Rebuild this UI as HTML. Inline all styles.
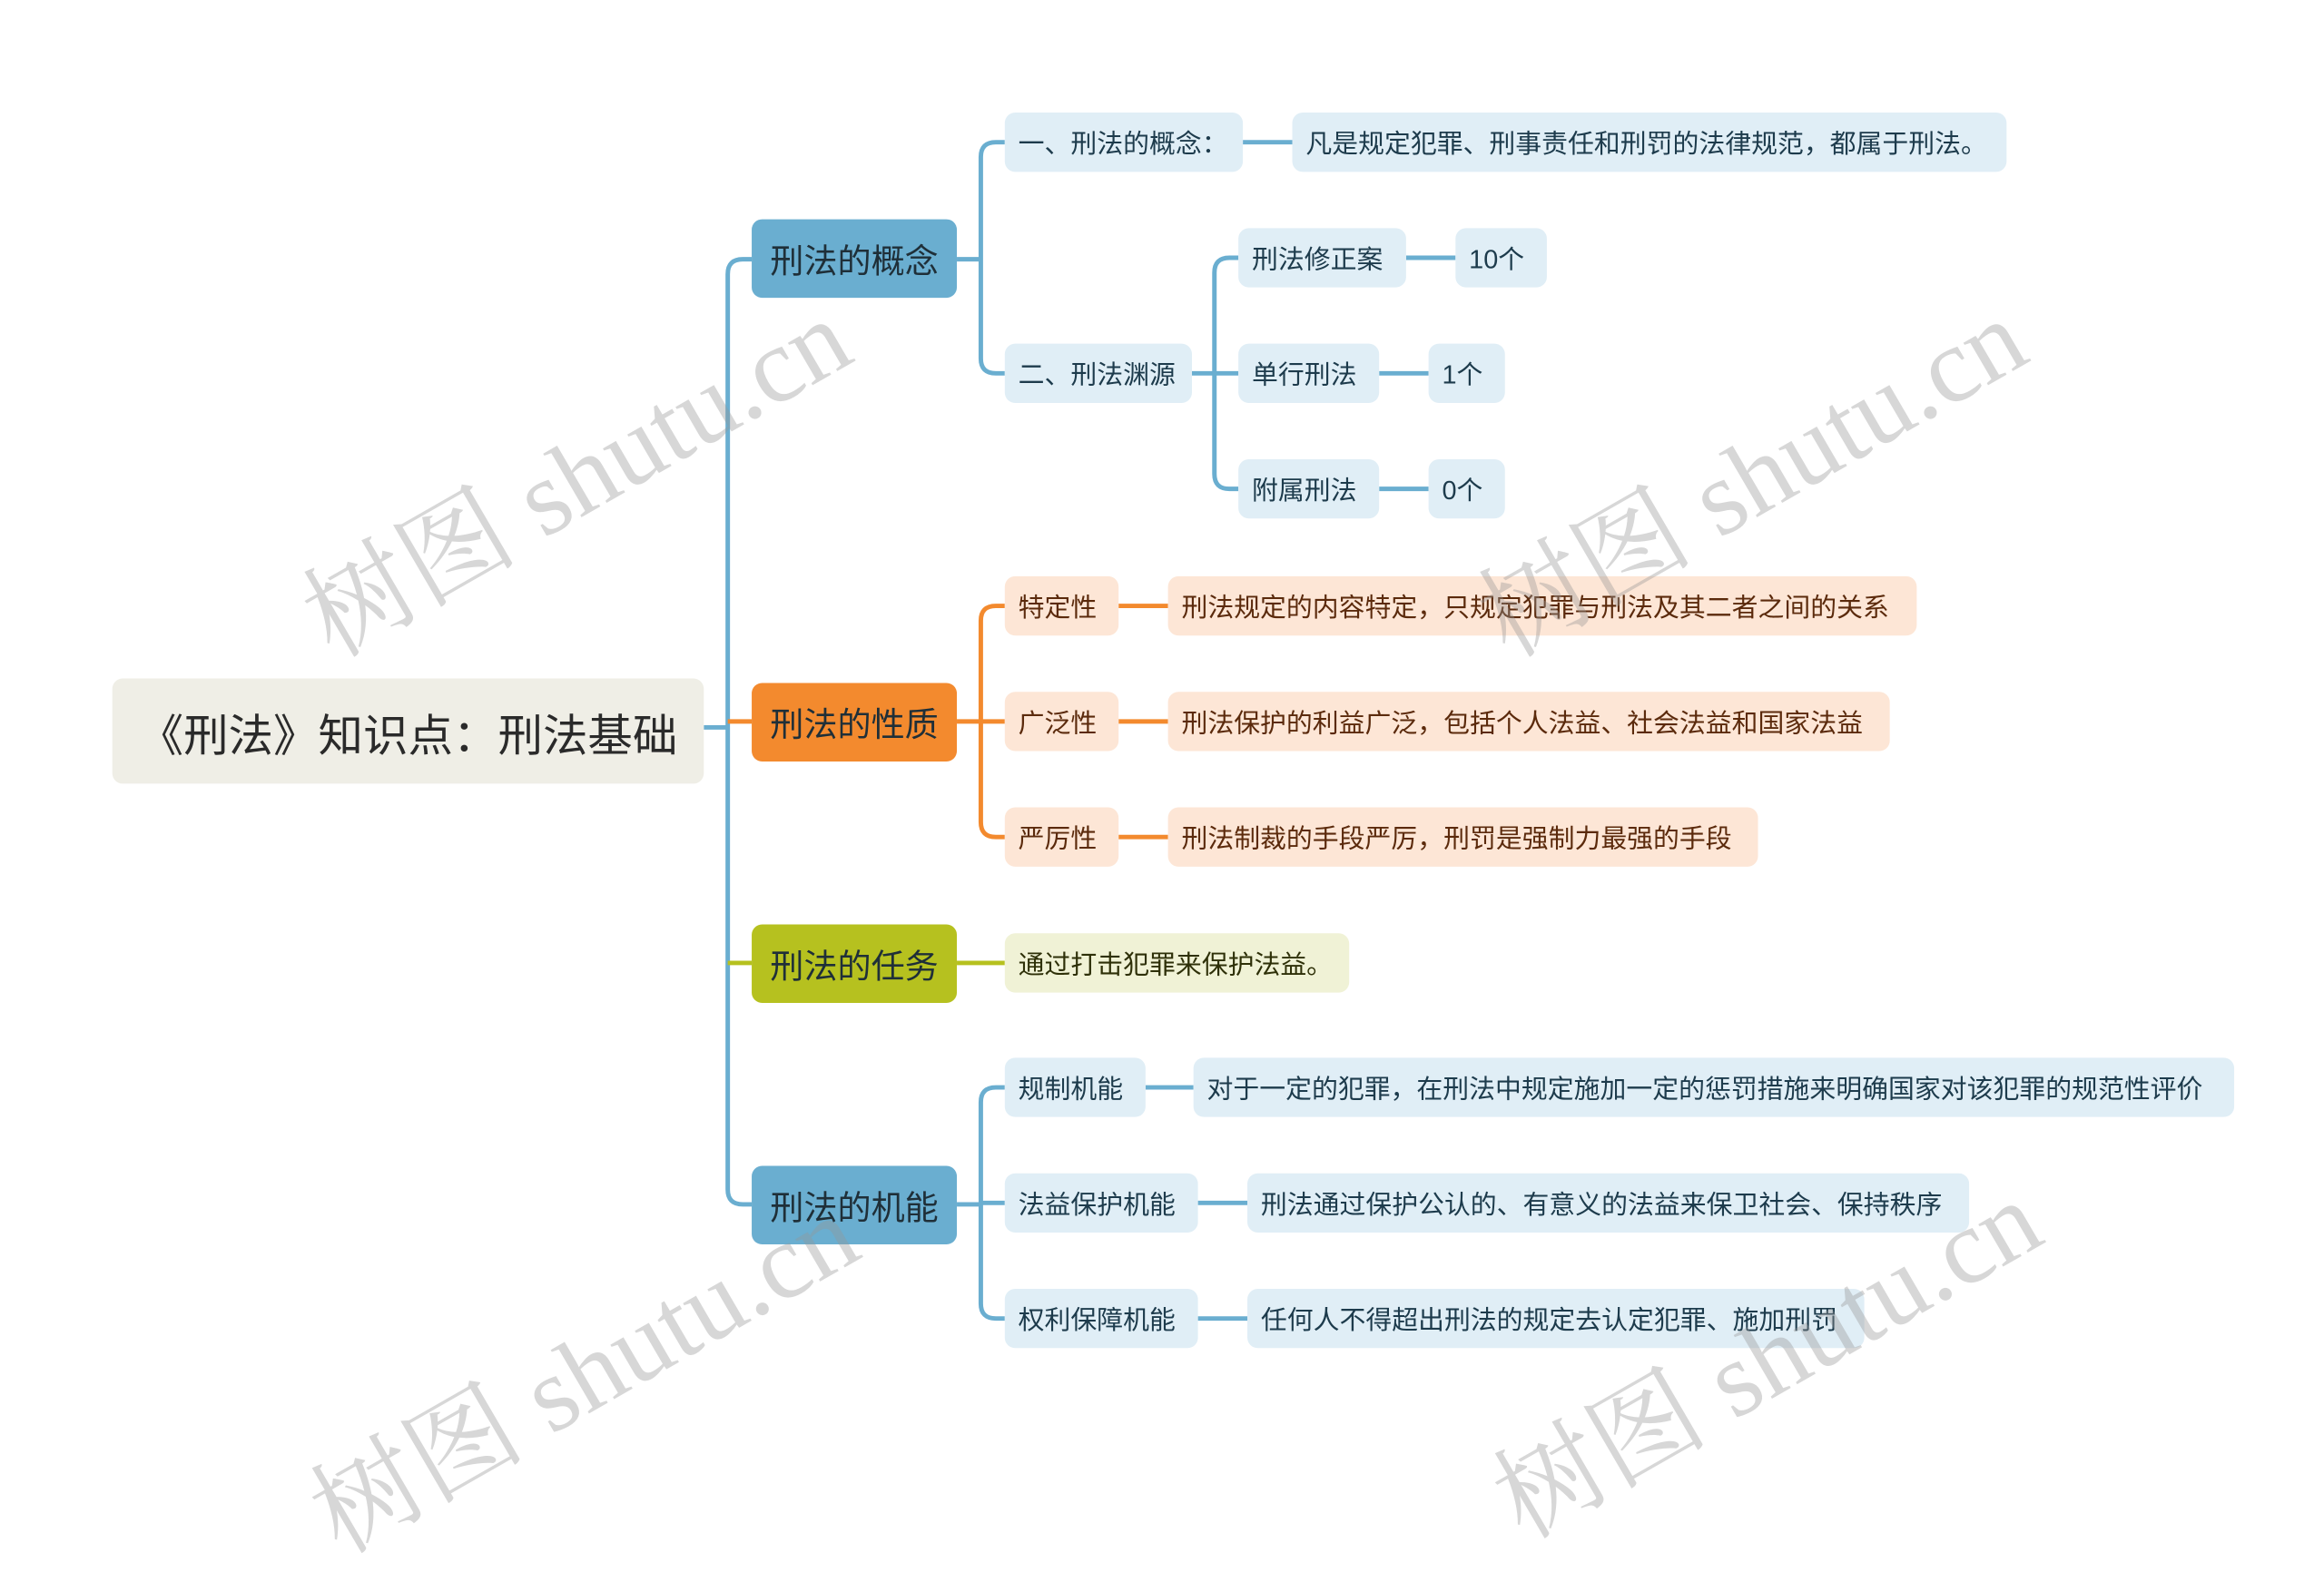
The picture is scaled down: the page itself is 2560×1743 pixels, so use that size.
<!DOCTYPE html>
<html><head><meta charset="utf-8"><style>
html,body{margin:0;padding:0;background:#fff;overflow:hidden}
#s{position:absolute;left:0;top:0;width:1552px;height:987px;transform-origin:0 0;transform:scale(1.6495,1.6322);font-family:"Liberation Sans","Noto Sans CJK SC",sans-serif}
.n{position:absolute;box-sizing:border-box;display:flex;align-items:center;border-radius:7px;white-space:nowrap}
.m{font-size:22.5px;justify-content:center;color:#1f2f38}
.b{background:#e0eef6;color:#1d3b4c;font-size:17.5px;padding-left:9px}
.o{background:#fde6d6;color:#5b2a0c;font-size:17.5px;padding-left:9px}
.g{background:#f0f2d6;color:#2e3008;font-size:17.5px;padding-left:9px}
.w{position:absolute;font-family:"Liberation Serif","Noto Serif CJK SC",serif;font-size:72px;color:rgba(150,150,150,0.38);transform:rotate(-30deg);white-space:nowrap;transform-origin:center}
</style></head><body><div id="s">
<svg width="1552" height="987" style="position:absolute;left:0;top:0" fill="none" stroke-width="3">
<g stroke="#6aaed0">
<path d="M470 491 H486"/>
<path d="M502 175 H496 Q486 175 486 185 V803 Q486 813 496 813 H502"/>
<path d="M639 175 H655 M671 96 H665 Q655 96 655 106 V242 Q655 252 665 252 H671"/>
<path d="M830 96 H863"/>
<path d="M796 252 H811 M827 174 H821 Q811 174 811 184 V320 Q811 330 821 330 H827 M811 252 H827"/>
<path d="M939 174 H972 M921 252 H954 M921 330 H954"/>
<path d="M639 813 H655 M671 734 H665 Q655 734 655 744 V880 Q655 890 665 890 H671 M655 812 H671"/>
<path d="M765 734 H797 M800 812 H833 M800 890 H833"/>
</g>
<g stroke="#f38a2e">
<path d="M486 487 H502"/>
<path d="M639 487 H655 M671 409 H665 Q655 409 655 419 V555 Q655 565 665 565 H671 M655 487 H671"/>
<path d="M747 409 H780 M747 487 H780 M747 565 H780"/>
</g>
<g stroke="#b6c11f">
<path d="M486 650 H502 M639 650 H671"/>
</g>
</svg>
<div class="n m" style="left:75px;top:458px;width:395px;height:71px;background:#efeee6;font-size:30px;color:#2a2a2a">《刑法》知识点：刑法基础</div>
<div class="n m" style="left:502px;top:148px;width:137px;height:53px;background:#6aaed0">刑法的概念</div>
<div class="n m" style="left:502px;top:461px;width:137px;height:53px;background:#f38a2e">刑法的性质</div>
<div class="n m" style="left:502px;top:624px;width:137px;height:53px;background:#b6c11f">刑法的任务</div>
<div class="n m" style="left:502px;top:787px;width:137px;height:53px;background:#6aaed0">刑法的机能</div>

<div class="n b" style="left:671px;top:76px;width:159px;height:40px">一、刑法的概念：</div>
<div class="n b" style="left:863px;top:76px;width:477px;height:40px">凡是规定犯罪、刑事责任和刑罚的法律规范，都属于刑法。</div>
<div class="n b" style="left:671px;top:232px;width:125px;height:40px">二、刑法渊源</div>
<div class="n b" style="left:827px;top:154px;width:112px;height:40px">刑法修正案</div>
<div class="n b" style="left:972px;top:154px;width:61px;height:40px">10个</div>
<div class="n b" style="left:827px;top:232px;width:94px;height:40px">单行刑法</div>
<div class="n b" style="left:954px;top:232px;width:51px;height:40px">1个</div>
<div class="n b" style="left:827px;top:310px;width:94px;height:40px">附属刑法</div>
<div class="n b" style="left:954px;top:310px;width:51px;height:40px">0个</div>

<div class="n o" style="left:671px;top:389px;width:76px;height:40px">特定性</div>
<div class="n o" style="left:780px;top:389px;width:500px;height:40px">刑法规定的内容特定，只规定犯罪与刑法及其二者之间的关系</div>
<div class="n o" style="left:671px;top:467px;width:76px;height:40px">广泛性</div>
<div class="n o" style="left:780px;top:467px;width:482px;height:40px">刑法保护的利益广泛，包括个人法益、社会法益和国家法益</div>
<div class="n o" style="left:671px;top:545px;width:76px;height:40px">严厉性</div>
<div class="n o" style="left:780px;top:545px;width:394px;height:40px">刑法制裁的手段严厉，刑罚是强制力最强的手段</div>

<div class="n g" style="left:671px;top:630px;width:230px;height:40px">通过打击犯罪来保护法益。</div>

<div class="n b" style="left:671px;top:714px;width:94px;height:40px">规制机能</div>
<div class="n b" style="left:797px;top:714px;width:695px;height:40px">对于一定的犯罪，在刑法中规定施加一定的惩罚措施来明确国家对该犯罪的规范性评价</div>
<div class="n b" style="left:671px;top:792px;width:129px;height:40px">法益保护机能</div>
<div class="n b" style="left:833px;top:792px;width:482px;height:40px">刑法通过保护公认的、有意义的法益来保卫社会、保持秩序</div>
<div class="n b" style="left:671px;top:870px;width:129px;height:40px">权利保障机能</div>
<div class="n b" style="left:833px;top:870px;width:412px;height:40px">任何人不得超出刑法的规定去认定犯罪、施加刑罚</div>

<div class="w" style="left:180px;top:265px">树图 shutu.cn</div>
<div class="w" style="left:965px;top:265px">树图 shutu.cn</div>
<div class="w" style="left:185px;top:870px">树图 shutu.cn</div>
<div class="w" style="left:975px;top:860px">树图 shutu.cn</div>
</div></body></html>
